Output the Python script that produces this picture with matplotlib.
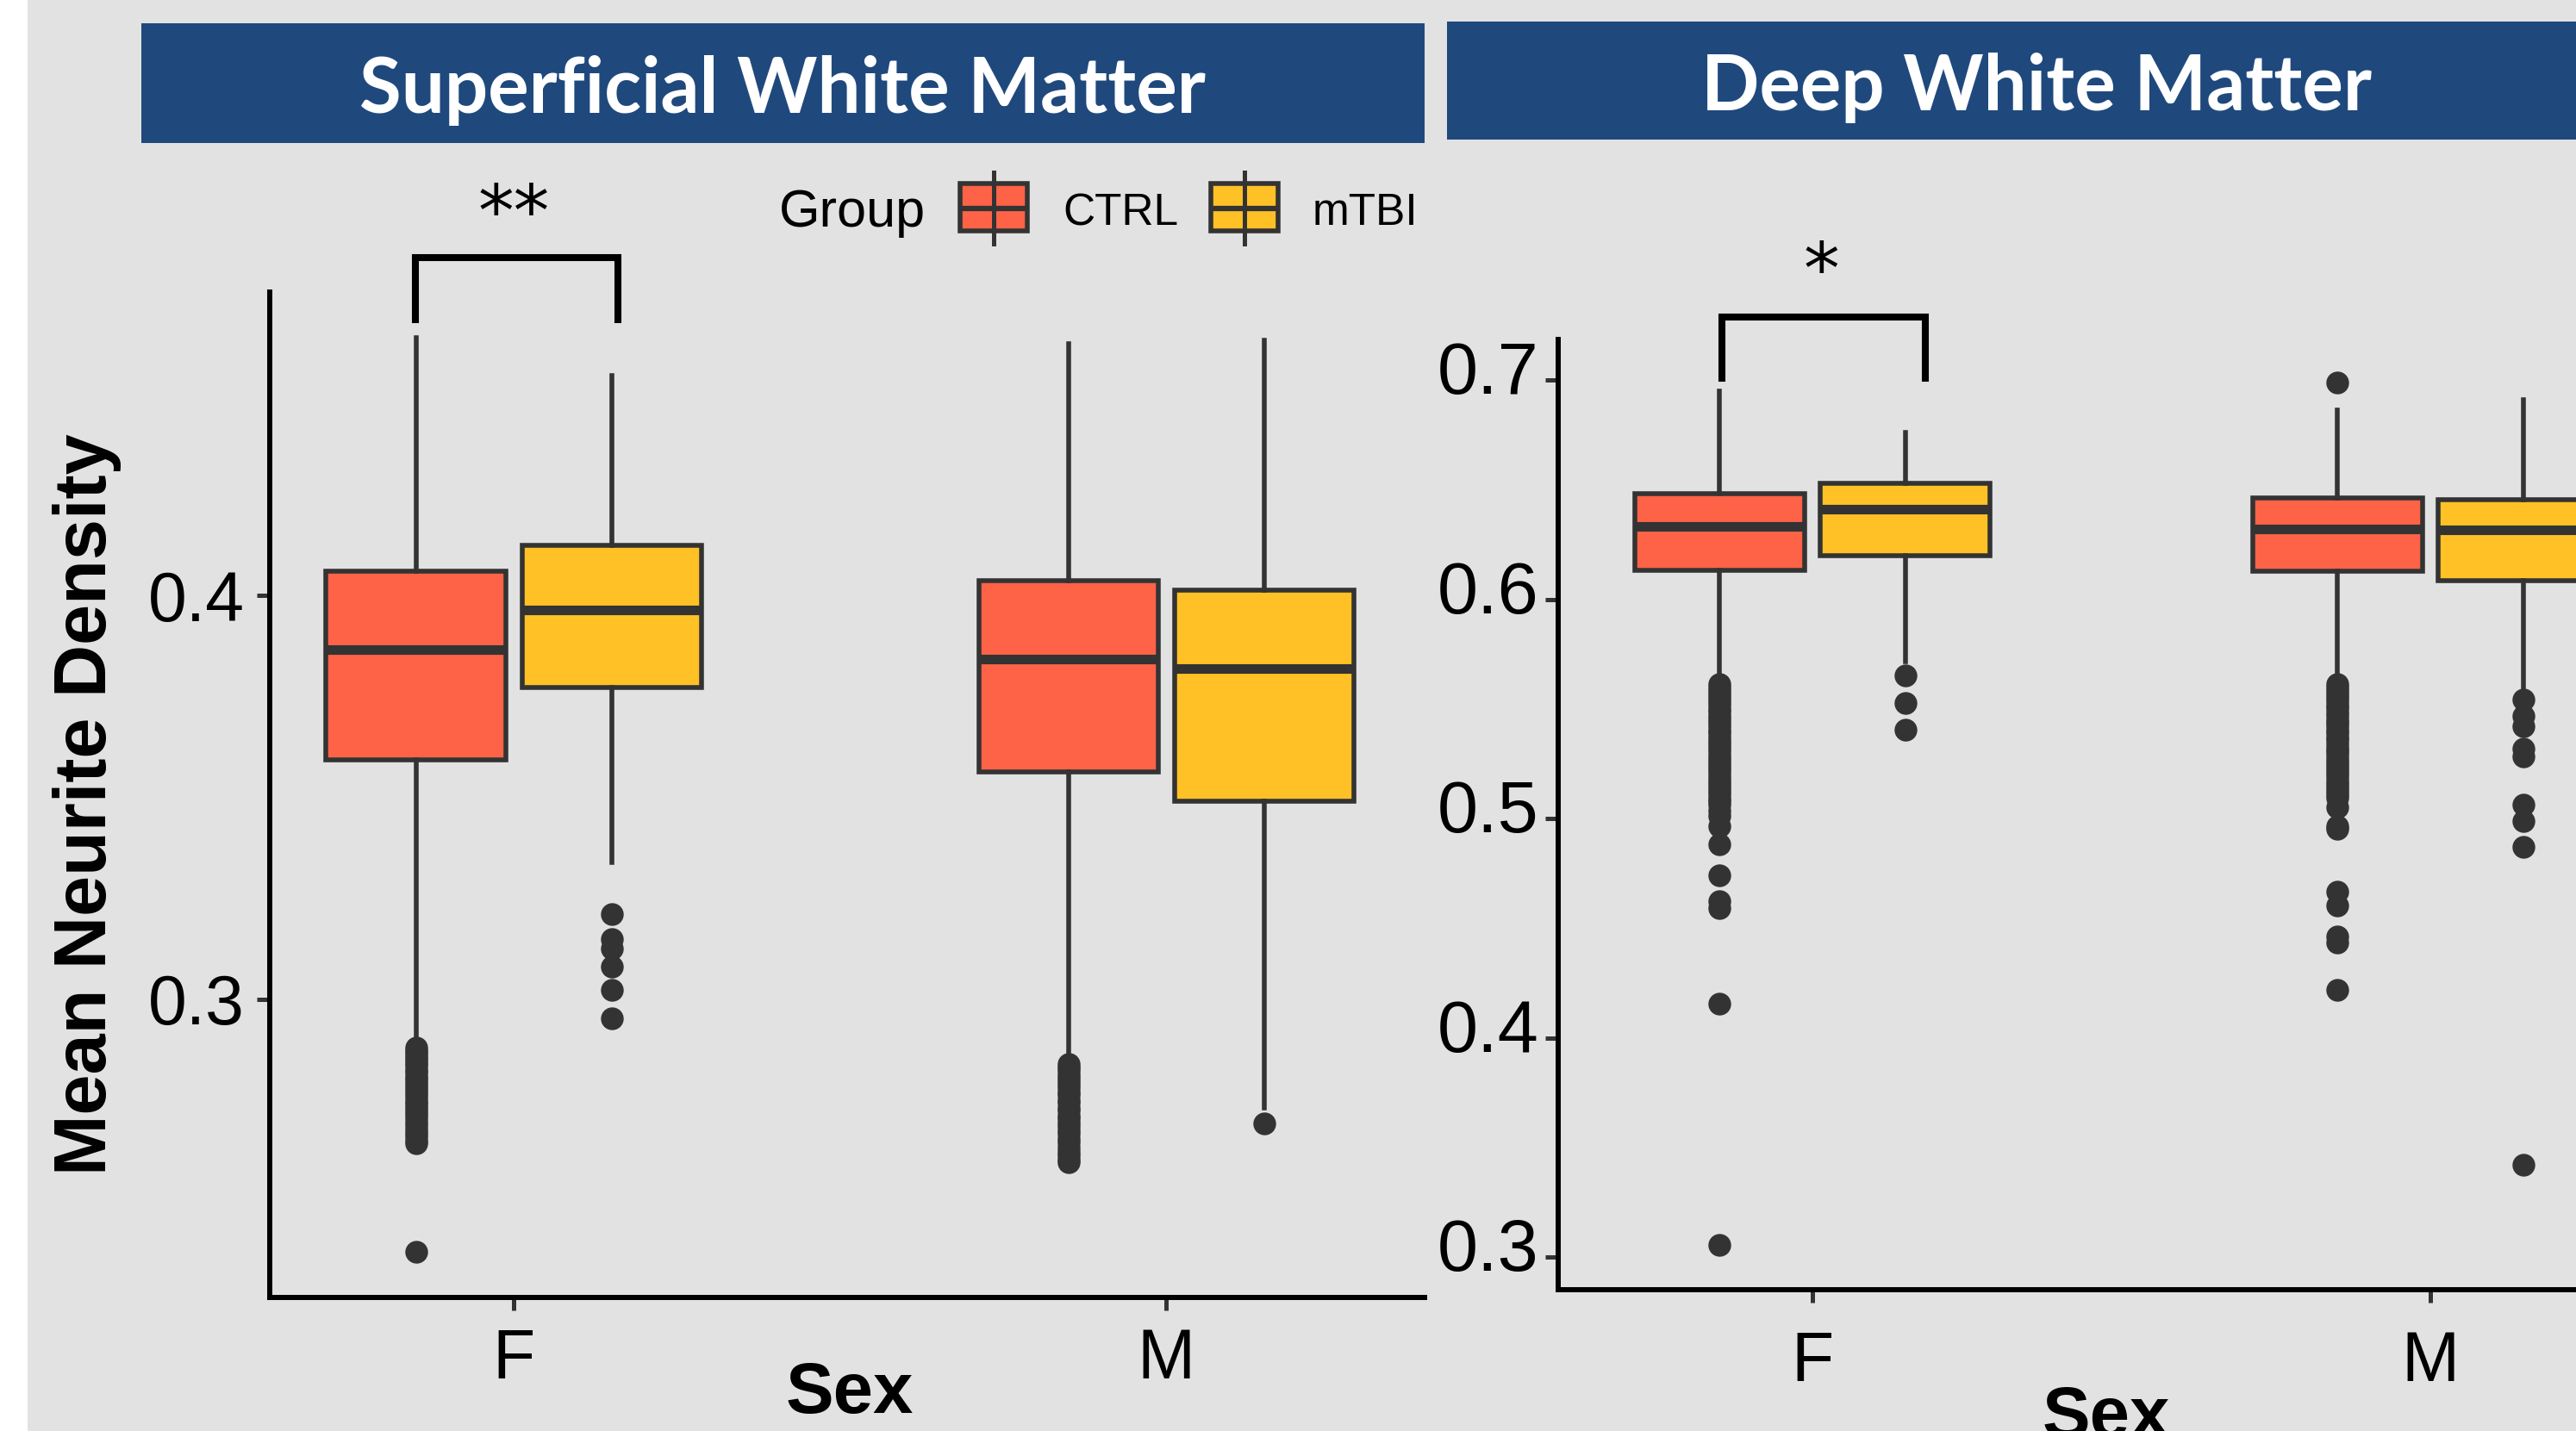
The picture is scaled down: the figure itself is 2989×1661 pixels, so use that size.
import matplotlib
matplotlib.use('Agg')
import matplotlib.pyplot as plt
from matplotlib.patches import Rectangle
from matplotlib.lines import Line2D
from matplotlib.transforms import ScaledTranslation

# ---- data (box statistics) ----
sexes = ["F", "M"]
groups = ["CTRL", "mTBI"]
group_colors = ["#FF6347", "#FFC125"]

# order of the boxes: F-CTRL, F-mTBI, M-CTRL, M-mTBI
swm_whislo = [0.2905, 0.3339, 0.2870, 0.2732]
swm_q1 = [0.3593, 0.3772, 0.3562, 0.3491]
swm_med = [0.3866, 0.3964, 0.3843, 0.3820]
swm_q3 = [0.4060, 0.4125, 0.4037, 0.4013]
swm_whishi = [0.4637, 0.4545, 0.4624, 0.4632]
swm_fliers_f_ctrl = [0.2881, 0.2873, 0.2866, 0.2857, 0.2851, 0.2842, 0.2836, 0.2826,
                     0.2819, 0.2809, 0.2802, 0.2793, 0.2785, 0.2775, 0.2768, 0.2760,
                     0.2749, 0.2742, 0.2733, 0.2724, 0.2716, 0.2707, 0.2697, 0.2689,
                     0.2678, 0.2670, 0.2661, 0.2651, 0.2643, 0.2376]
swm_fliers_f_mtbi = [0.3212, 0.3149, 0.3125, 0.3081, 0.3023, 0.2952]
swm_fliers_m_ctrl = [0.2840, 0.2831, 0.2825, 0.2814, 0.2806, 0.2798, 0.2788, 0.2781,
                     0.2770, 0.2763, 0.2751, 0.2744, 0.2732, 0.2725, 0.2713, 0.2706,
                     0.2694, 0.2686, 0.2675, 0.2667, 0.2654, 0.2646, 0.2633, 0.2622,
                     0.2613, 0.2604, 0.2597]
swm_fliers_m_mtbi = [0.2693]

dwm_whislo = [0.5660, 0.5715, 0.5660, 0.5592]
dwm_q1 = [0.6132, 0.6198, 0.6127, 0.6086]
dwm_med = [0.6332, 0.6412, 0.6321, 0.6318]
dwm_q3 = [0.6480, 0.6530, 0.6461, 0.6455]
dwm_whishi = [0.6950, 0.6760, 0.6864, 0.6911]
dwm_fliers_f_ctrl = [0.5612, 0.5596, 0.5583, 0.5565, 0.5551, 0.5534, 0.5519, 0.5500,
                     0.5486, 0.5468, 0.5452, 0.5437, 0.5419, 0.5403, 0.5388, 0.5371,
                     0.5355, 0.5337, 0.5322, 0.5306, 0.5288, 0.5272, 0.5257, 0.5239,
                     0.5224, 0.5208, 0.5190, 0.5175, 0.5158, 0.5141, 0.5126, 0.5109,
                     0.5092, 0.5078, 0.5064, 0.5036, 0.5011, 0.4966, 0.4884, 0.4740,
                     0.4622, 0.4590, 0.4155, 0.3054]
dwm_fliers_f_mtbi = [0.5653, 0.5527, 0.5405]
dwm_fliers_m_ctrl = [0.6987, 0.5613, 0.5598, 0.5581, 0.5566, 0.5549, 0.5535, 0.5517,
                     0.5502, 0.5484, 0.5469, 0.5450, 0.5436, 0.5421, 0.5402, 0.5389,
                     0.5370, 0.5356, 0.5339, 0.5320, 0.5305, 0.5290, 0.5271, 0.5256,
                     0.5241, 0.5223, 0.5207, 0.5192, 0.5174, 0.5159, 0.5140, 0.5127,
                     0.5110, 0.5096, 0.5053, 0.4966, 0.4955, 0.4668, 0.4603, 0.4463,
                     0.4436, 0.4220]
dwm_fliers_m_mtbi = [0.5541, 0.5466, 0.5422, 0.5319, 0.5285, 0.5063, 0.4988, 0.4872, 0.3419]

# significance brackets: (x left, x right, y top, y leg end)
swm_bracket = (0.849, 1.159, 0.4836, 0.4682)
dwm_bracket = (0.853, 1.183, 0.7288, 0.7008)

W, H = 2989, 1661
BG = "#E2E2E2"
BANNER = "#1F497D"
DARK = "#333333"

plt.rcParams['font.family'] = ['Liberation Sans', 'DejaVu Sans']

fig = plt.figure(figsize=(W / 100, H / 100), dpi=100)
fig.patch.set_facecolor(BG)


def px_rect(left, top, right, bottom):
    # pixel box -> figure fraction [l, b, w, h]
    return [left / W, 1 - bottom / H, (right - left) / W, (bottom - top) / H]


def make_stats(whislo, q1, med, q3, whishi, fliers):
    stats = []
    for i in range(4):
        stats.append(dict(whislo=whislo[i], q1=q1[i], med=med[i], q3=q3[i],
                          whishi=whishi[i], fliers=fliers[i]))
    return stats


def draw_panel(ax, stats, xlim, ylim, yticks, bracket, star, star_xy, ypad, xpad, ylab_size):
    positions = [1 - 0.15, 1 + 0.15, 2 - 0.15, 2 + 0.15]
    bp = ax.bxp(stats, positions=positions, widths=0.275, patch_artist=True,
                showcaps=False, manage_ticks=False,
                boxprops=dict(edgecolor=DARK, linewidth=4.0),
                whiskerprops=dict(color=DARK, linewidth=4.0),
                medianprops=dict(color=DARK, linewidth=8.0, solid_capstyle='butt'),
                flierprops=dict(marker='o', markerfacecolor=DARK, markeredgecolor=DARK,
                                markersize=18, linestyle='none'))
    for i, box in enumerate(bp['boxes']):
        box.set_facecolor(group_colors[i % 2])

    ax.set_xlim(*xlim)
    ax.set_ylim(*ylim)
    ax.set_facecolor(BG)
    for s in ['top', 'right']:
        ax.spines[s].set_visible(False)
    for s in ['left', 'bottom']:
        ax.spines[s].set_linewidth(4.3)
        ax.spines[s].set_color('black')
    ax.set_xticks([1, 2])
    ax.set_xticklabels(sexes)
    ax.set_yticks(yticks)
    ax.set_yticklabels(["%.1f" % t for t in yticks])
    ax.tick_params(axis='both', colors=DARK, length=11, width=3.6, labelsize=58,
                   labelcolor='black')
    ax.tick_params(axis='y', pad=ypad, labelsize=ylab_size)
    ax.tick_params(axis='x', pad=xpad)

    x0, x1, ytop, yleg = bracket
    ax.plot([x0, x0, x1, x1], [yleg, ytop, ytop, yleg], color='black', linewidth=5.8,
            solid_joinstyle='miter', clip_on=False)
    ax.text(star_xy[0], star_xy[1], star, ha='center', va='center', fontsize=60,
            family='DejaVu Sans', clip_on=False)


# ---- left panel: superficial white matter ----
ax1 = fig.add_axes(px_rect(313, 339, 1653, 1506))
swm_stats = make_stats(swm_whislo, swm_q1, swm_med, swm_q3, swm_whishi,
                       [swm_fliers_f_ctrl, swm_fliers_f_mtbi, swm_fliers_m_ctrl, swm_fliers_m_mtbi])
draw_panel(ax1, swm_stats, (0.626, 2.396), (0.2262, 0.4751), [0.3, 0.4],
           swm_bracket, "**", (1.0, 0.4940), 10, 14, 58)
ax1.set_ylabel("Mean Neurite Density", fontsize=61, fontweight='bold', va='center')
ax1.yaxis.set_label_coords(101 / W, 1 - 934 / H, transform=fig.transFigure)
ax1.set_xlabel("Sex", fontsize=60, fontweight='bold', va='baseline')
ax1.xaxis.set_label_coords(986 / W, 1 - 1640 / H, transform=fig.transFigure)

# ---- right panel: deep white matter ----
ax2 = fig.add_axes(px_rect(1808, 394, 3080, 1497))
dwm_stats = make_stats(dwm_whislo, dwm_q1, dwm_med, dwm_q3, dwm_whishi,
                       [dwm_fliers_f_ctrl, dwm_fliers_f_mtbi, dwm_fliers_m_ctrl, dwm_fliers_m_mtbi])
draw_panel(ax2, dwm_stats, (0.5886, 2.3626), (0.2851, 0.7185), [0.3, 0.4, 0.5, 0.6, 0.7],
           dwm_bracket, "*", (1.015, 0.7485), 5, 23, 61)
# tick labels of this panel sit a little above their ticks
for lab in ax2.get_yticklabels():
    lab.set_transform(lab.get_transform() + ScaledTranslation(0, 0.15, fig.dpi_scale_trans))
ax2.set_xlabel("Sex", fontsize=60, fontweight='bold', va='baseline')
ax2.xaxis.set_label_coords(2444 / W, 1 - 1668 / H, transform=fig.transFigure)

# ---- overlay in pixel coordinates: banners, legend, white strip ----
ov = fig.add_axes([0, 0, 1, 1], zorder=5)
ov.set_xlim(0, W)
ov.set_ylim(H, 0)
ov.axis('off')
ov.patch.set_alpha(0)

ov.add_patch(Rectangle((0, 0), 32, H, facecolor='white', edgecolor='none'))
ov.add_patch(Rectangle((164, 27), 1653 - 164, 166 - 27, facecolor=BANNER, edgecolor='none'))
ov.add_patch(Rectangle((1679, 25), 3049 - 1679, 162 - 25, facecolor=BANNER, edgecolor='none'))
ov.text(908, 131, "Superficial White Matter", color='white', fontsize=64, fontweight='bold',
        family='Lato', ha='center', va='baseline')
ov.text(2363, 128, "Deep White Matter", color='white', fontsize=64, fontweight='bold',
        family='Lato', ha='center', va='baseline')

# legend
ov.text(904, 263, "Group", fontsize=44, ha='left', va='baseline')
key_left = [1114, 1405]
label_left = [1233, 1523]
for i, g in enumerate(groups):
    kx = key_left[i]
    ov.add_line(Line2D([kx + 39, kx + 39], [200, 283], color=DARK, linewidth=3.6))
    ov.add_patch(Rectangle((kx, 213), 78, 55, facecolor=group_colors[i], edgecolor=DARK,
                           linewidth=4.0))
    ov.add_line(Line2D([kx, kx + 78], [241.5, 241.5], color=DARK, linewidth=4.5,
                       solid_capstyle='butt'))
    ov.text(label_left[i], 261, g, fontsize=37, ha='left', va='baseline')

fig.savefig("out.png", dpi=100, facecolor=BG)
